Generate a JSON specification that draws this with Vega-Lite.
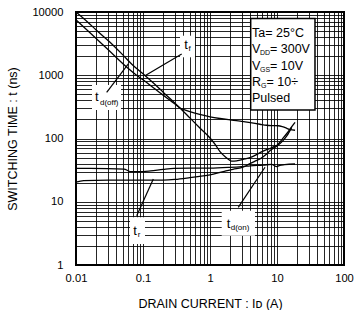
{
  "$schema": "https://vega.github.io/schema/vega-lite/v6.json",
  "width": 268,
  "height": 253,
  "padding": {"left": 6, "top": 6, "right": 0, "bottom": 0},
  "config": {
    "view": {"stroke": "#000", "strokeWidth": 2},
    "font": "Liberation Sans",
    "axis": {
      "grid": true, "gridColor": "#000", "gridWidth": 1, "gridOpacity": 0.85,
      "ticks": false, "domain": false,
      "labelFont": "Liberation Sans", "labelFontSize": 11.2, "labelColor": "#000",
      "titleFont": "Liberation Sans", "titleFontSize": 12.5, "titleFontWeight": "normal", "titleColor": "#000",
      "labelFlush": false, "labelOverlap": false
    }
  },
  "datasets": {
    "curves": [
      {"curve": "tf", "x": 0.01, "y": 10000}, {"curve": "tf", "x": 0.015, "y": 6900}, {"curve": "tf", "x": 0.02, "y": 5200},
      {"curve": "tf", "x": 0.0322, "y": 3330}, {"curve": "tf", "x": 0.05, "y": 2100}, {"curve": "tf", "x": 0.07, "y": 1450},
      {"curve": "tf", "x": 0.107, "y": 993}, {"curve": "tf", "x": 0.15, "y": 720}, {"curve": "tf", "x": 0.2, "y": 540},
      {"curve": "tf", "x": 0.3, "y": 362}, {"curve": "tf", "x": 0.356, "y": 304}, {"curve": "tf", "x": 0.5, "y": 212},
      {"curve": "tf", "x": 0.7, "y": 148}, {"curve": "tf", "x": 1, "y": 102}, {"curve": "tf", "x": 1.2, "y": 80},
      {"curve": "tf", "x": 1.41, "y": 62}, {"curve": "tf", "x": 1.7, "y": 51}, {"curve": "tf", "x": 1.9, "y": 46.5},
      {"curve": "tf", "x": 2.1, "y": 44}, {"curve": "tf", "x": 2.5, "y": 44.3}, {"curve": "tf", "x": 2.8, "y": 45.5},
      {"curve": "tf", "x": 3.3, "y": 47.5}, {"curve": "tf", "x": 3.95, "y": 50}, {"curve": "tf", "x": 5, "y": 56},
      {"curve": "tf", "x": 6, "y": 62}, {"curve": "tf", "x": 7, "y": 66.5}, {"curve": "tf", "x": 8, "y": 70},
      {"curve": "tf", "x": 9, "y": 74.5}, {"curve": "tf", "x": 10, "y": 78}, {"curve": "tf", "x": 12, "y": 98},
      {"curve": "tf", "x": 14, "y": 120}, {"curve": "tf", "x": 16, "y": 146}, {"curve": "tf", "x": 18.6, "y": 180},

      {"curve": "tdoff", "x": 0.01, "y": 7500}, {"curve": "tdoff", "x": 0.02, "y": 3800}, {"curve": "tdoff", "x": 0.03, "y": 2550},
      {"curve": "tdoff", "x": 0.057, "y": 1345}, {"curve": "tdoff", "x": 0.08, "y": 1000}, {"curve": "tdoff", "x": 0.1, "y": 850},
      {"curve": "tdoff", "x": 0.15, "y": 610}, {"curve": "tdoff", "x": 0.2, "y": 485}, {"curve": "tdoff", "x": 0.25, "y": 405},
      {"curve": "tdoff", "x": 0.3, "y": 350}, {"curve": "tdoff", "x": 0.356, "y": 304}, {"curve": "tdoff", "x": 0.4, "y": 288},
      {"curve": "tdoff", "x": 0.5, "y": 265}, {"curve": "tdoff", "x": 0.7, "y": 240}, {"curve": "tdoff", "x": 1, "y": 220},
      {"curve": "tdoff", "x": 1.41, "y": 207}, {"curve": "tdoff", "x": 2, "y": 197}, {"curve": "tdoff", "x": 2.64, "y": 190},
      {"curve": "tdoff", "x": 4, "y": 178}, {"curve": "tdoff", "x": 5.57, "y": 168}, {"curve": "tdoff", "x": 7, "y": 162},
      {"curve": "tdoff", "x": 8.5, "y": 160}, {"curve": "tdoff", "x": 10.4, "y": 159}, {"curve": "tdoff", "x": 12, "y": 154},
      {"curve": "tdoff", "x": 14, "y": 145}, {"curve": "tdoff", "x": 15.6, "y": 138}, {"curve": "tdoff", "x": 18.6, "y": 135},

      {"curve": "tdon", "x": 0.01, "y": 33.7}, {"curve": "tdon", "x": 0.03, "y": 33.5}, {"curve": "tdon", "x": 0.052, "y": 32.9},
      {"curve": "tdon", "x": 0.065, "y": 30}, {"curve": "tdon", "x": 0.1, "y": 30}, {"curve": "tdon", "x": 0.13, "y": 30.7},
      {"curve": "tdon", "x": 0.2, "y": 32.5}, {"curve": "tdon", "x": 0.29, "y": 33.7}, {"curve": "tdon", "x": 0.5, "y": 34},
      {"curve": "tdon", "x": 1, "y": 34}, {"curve": "tdon", "x": 2, "y": 35}, {"curve": "tdon", "x": 3, "y": 36},
      {"curve": "tdon", "x": 4, "y": 37}, {"curve": "tdon", "x": 6.25, "y": 38}, {"curve": "tdon", "x": 8.3, "y": 39},
      {"curve": "tdon", "x": 9.9, "y": 36}, {"curve": "tdon", "x": 11, "y": 37.5}, {"curve": "tdon", "x": 13, "y": 38.5},
      {"curve": "tdon", "x": 18.6, "y": 39.5},

      {"curve": "tr", "x": 0.01, "y": 20.5}, {"curve": "tr", "x": 0.013, "y": 21.5}, {"curve": "tr", "x": 0.03, "y": 22},
      {"curve": "tr", "x": 0.1, "y": 22}, {"curve": "tr", "x": 0.2, "y": 22}, {"curve": "tr", "x": 0.3, "y": 22.5},
      {"curve": "tr", "x": 0.5, "y": 24}, {"curve": "tr", "x": 0.7, "y": 25.2}, {"curve": "tr", "x": 1, "y": 26.5},
      {"curve": "tr", "x": 1.58, "y": 30}, {"curve": "tr", "x": 2.2, "y": 32.5}, {"curve": "tr", "x": 3.17, "y": 35.5},
      {"curve": "tr", "x": 3.95, "y": 40}, {"curve": "tr", "x": 5, "y": 45}, {"curve": "tr", "x": 5.55, "y": 47.5},
      {"curve": "tr", "x": 7, "y": 57}, {"curve": "tr", "x": 8, "y": 65}, {"curve": "tr", "x": 9, "y": 71},
      {"curve": "tr", "x": 10, "y": 76}, {"curve": "tr", "x": 12, "y": 90}, {"curve": "tr", "x": 14, "y": 110},
      {"curve": "tr", "x": 16.6, "y": 150}
    ],
    "pointers": [
      {"label": "tf", "x": 0.378, "y": 2167, "x2": 0.107, "y2": 984},
      {"label": "tdoff", "x": 0.0287, "y": 537, "x2": 0.0604, "y2": 1507},
      {"label": "tr", "x": 0.0805, "y": 6.03, "x2": 0.1426, "y2": 22.9},
      {"label": "tdon", "x": 2.64, "y": 8.17, "x2": 6.62, "y2": 35.1}
    ],
    "legendBox": [
      {"x": 4.05, "x2": 36.9, "y": 7890, "y2": 282}
    ],
    "tagBoxes": [
      {"label": "tf", "x": 0.3565, "x2": 0.597, "y": 4220, "y2": 1922},
      {"label": "tdoff", "x": 0.01733, "x2": 0.04695, "y": 702, "y2": 282},
      {"label": "tr", "x": 0.064, "x2": 0.1071, "y": 5.68, "y2": 2.148},
      {"label": "tdon", "x": 1.495, "x2": 4.694, "y": 7.22, "y2": 2.905}
    ],
    "texts": [
      {"role": "box", "text": "Ta= 25°C", "x": 4.235, "y": 4024},
      {"role": "box", "text": "V", "x": 4.235, "y": 2208},
      {"role": "boxsub", "text": "DD", "x": 5.576, "y": 2053},
      {"role": "box", "text": "= 300V", "x": 7.86, "y": 2208},
      {"role": "box", "text": "V", "x": 4.235, "y": 1224},
      {"role": "boxsub", "text": "GS", "x": 5.576, "y": 1138},
      {"role": "box", "text": "= 10V", "x": 7.86, "y": 1224},
      {"role": "box", "text": "R", "x": 4.235, "y": 676},
      {"role": "boxsub", "text": "G", "x": 5.77, "y": 629},
      {"role": "box", "text": "= 10÷", "x": 6.97, "y": 676},
      {"role": "box", "text": "Pulsed", "x": 4.235, "y": 373.5},
      {"role": "tag", "text": "t", "x": 0.4135, "y": 2600},
      {"role": "tagsub", "text": "f", "x": 0.4775, "y": 2417},
      {"role": "tag", "text": "t", "x": 0.01921, "y": 391.6},
      {"role": "tagsub", "text": "d(off)", "x": 0.02282, "y": 338.5},
      {"role": "tag", "text": "t", "x": 0.0716, "y": 2.98},
      {"role": "tagsub", "text": "r", "x": 0.0834, "y": 2.77},
      {"role": "tag", "text": "t", "x": 1.775, "y": 3.8},
      {"role": "tagsub", "text": "d(on)", "x": 2.037, "y": 3.537}
    ]
  },
  "encoding": {
    "x": {
      "field": "x", "type": "quantitative",
      "scale": {"type": "log", "domain": [0.01, 100], "nice": false},
      "axis": {
        "title": "DRAIN CURRENT : Iᴅ (A)",
        "values": [0.01,0.02,0.03,0.04,0.05,0.06,0.07,0.08,0.09,0.1,0.2,0.3,0.4,0.5,0.6,0.7,0.8,0.9,1,2,3,4,5,6,7,8,9,10,20,30,40,50,60,70,80,90,100],
        "format": "~g",
        "labelExpr": "indexof(['0.01','0.1','1','10','100'], datum.label) >= 0 ? datum.label : ''",
        "labelPadding": 7,
        "titlePadding": 14
      }
    },
    "y": {
      "field": "y", "type": "quantitative",
      "scale": {"type": "log", "domain": [1, 10000], "nice": false},
      "axis": {
        "title": "SWITCHING TIME : t (ns)",
        "values": [1,2,3,4,5,6,7,8,9,10,20,30,40,50,60,70,80,90,100,200,300,400,500,600,700,800,900,1000,2000,3000,4000,5000,6000,7000,8000,9000,10000],
        "format": "~g",
        "labelExpr": "indexof(['1','10','100','1000','10000'], datum.label) >= 0 ? datum.label : ''",
        "labelPadding": 13,
        "titlePadding": 12
      }
    }
  },
  "layer": [
    {
      "data": {"name": "tagBoxes"},
      "mark": {"type": "rect", "fill": "#fff", "stroke": null},
      "encoding": {"x2": {"field": "x2"}, "y2": {"field": "y2"}}
    },
    {
      "data": {"name": "legendBox"},
      "mark": {"type": "rect", "fill": "#fff", "stroke": "#000", "strokeWidth": 1.5},
      "encoding": {"x2": {"field": "x2"}, "y2": {"field": "y2"}}
    },
    {
      "data": {"name": "curves"},
      "mark": {"type": "line", "color": "#000", "strokeWidth": 1.3, "interpolate": "monotone"},
      "encoding": {"detail": {"field": "curve"}}
    },
    {
      "data": {"name": "pointers"},
      "mark": {"type": "rule", "color": "#000", "strokeWidth": 1.2},
      "encoding": {"x2": {"field": "x2"}, "y2": {"field": "y2"}}
    },
    {
      "data": {"name": "texts"},
      "transform": [{"filter": "datum.role == 'box'"}],
      "mark": {"type": "text", "align": "left", "baseline": "alphabetic", "fontSize": 12.5, "font": "Liberation Sans", "color": "#000"},
      "encoding": {"text": {"field": "text"}}
    },
    {
      "data": {"name": "texts"},
      "transform": [{"filter": "datum.role == 'boxsub'"}],
      "mark": {"type": "text", "align": "left", "baseline": "alphabetic", "fontSize": 7, "font": "Liberation Sans", "color": "#000"},
      "encoding": {"text": {"field": "text"}}
    },
    {
      "data": {"name": "texts"},
      "transform": [{"filter": "datum.role == 'tag'"}],
      "mark": {"type": "text", "align": "left", "baseline": "alphabetic", "fontSize": 13, "font": "Liberation Sans", "color": "#000"},
      "encoding": {"text": {"field": "text"}}
    },
    {
      "data": {"name": "texts"},
      "transform": [{"filter": "datum.role == 'tagsub'"}],
      "mark": {"type": "text", "align": "left", "baseline": "alphabetic", "fontSize": 8, "font": "Liberation Sans", "color": "#000"},
      "encoding": {"text": {"field": "text"}}
    }
  ]
}
